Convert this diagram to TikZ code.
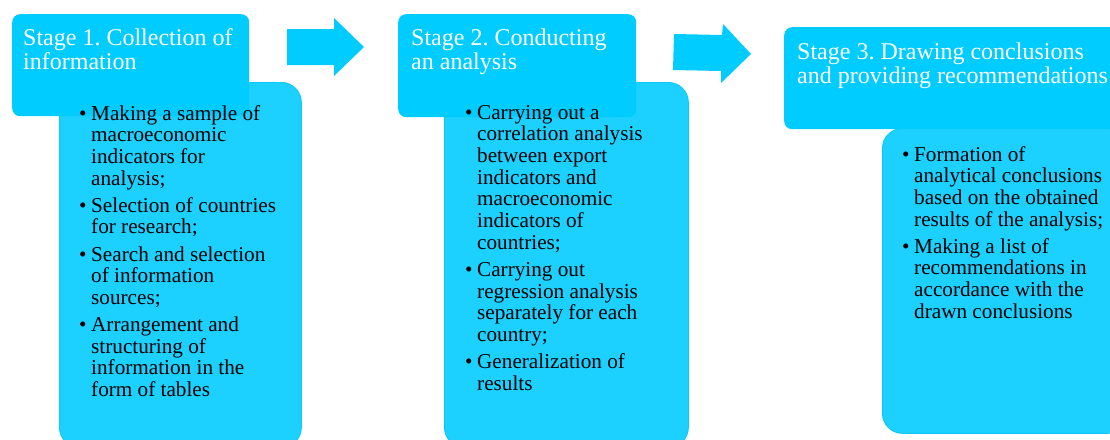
\documentclass[tikz,border=0pt]{standalone}
\usepackage{fontspec}
\setmainfont{Liberation Serif}
\usepackage{array}
\frenchspacing
\definecolor{headcol}{RGB}{0,204,255}
\definecolor{bodycol}{RGB}{28,209,255}
\definecolor{bodyline}{RGB}{10,200,250}
\definecolor{arrcol}{RGB}{0,204,255}
\newcommand{\bodyfont}{\fontsize{21.2}{21.7}\selectfont}
\newcommand{\titlefont}{\fontsize{24}{24.5}\selectfont}
\begin{document}
\begin{tikzpicture}[x=1pt,y=-1pt,
  bodybox/.style={fill=bodycol,draw=bodyline,line width=0.8pt,rounded corners=20pt,anchor=north west,inner sep=0pt},
  headbox/.style={fill=headcol,rounded corners=8pt,anchor=north west,inner sep=0pt},
  titletext/.style={anchor=base west,text=white,inner sep=0pt,font=\titlefont},
  bullettext/.style={anchor=base west,text=black,inner sep=0pt,font=\bodyfont}]
\useasboundingbox (0,0) rectangle (1110,439);
% bodies
\node[bodybox,minimum width=242pt,minimum height=365pt] (b1) at (59,82) {};
\node[bodybox,minimum width=244pt,minimum height=365pt] (b2) at (444,82) {};
\node[bodybox,minimum width=245pt,minimum height=305pt] (b3) at (882,128) {};
% headers
\node[headbox,minimum width=237pt,minimum height=102pt] (h1) at (12,14) {};
\node[headbox,minimum width=238pt,minimum height=103pt] (h2) at (398,14) {};
\node[headbox,minimum width=341pt,minimum height=102pt] (h3) at (784,27) {};
% titles
\node[titletext] (t1) at (23,45) {\begin{tabular}[t]{@{}l@{}}Stage 1. Collection of\\information\end{tabular}};
\node[titletext] (t2) at (411,45) {\begin{tabular}[t]{@{}l@{}}Stage 2. Conducting\\an analysis\end{tabular}};
\node[titletext] (t3) at (797,59) {\begin{tabular}[t]{@{}l@{}}Stage 3. Drawing conclusions\\and providing recommendations\end{tabular}};
% arrows
\fill[arrcol] (287,29) -- (334,29) -- (334,18) -- (364,47) -- (334,76) -- (334,65) -- (287,65) -- cycle;
\fill[arrcol] (674,34) -- (722,35) -- (723,24) -- (751,54) -- (721,83) -- (721,71) -- (673,70) -- cycle;
% bullet texts
\node[bullettext] (l1) at (79,120) {\begin{tabular}[t]{@{}p{12pt}@{}l@{}}
\textbullet & Making a sample of\\
 & macroeconomic\\
 & indicators for\\
 & analysis;\\[5.4pt]
\textbullet & Selection of countries\\
 & for research;\\[5.4pt]
\textbullet & Search and selection\\
 & of information\\
 & sources;\\[5.4pt]
\textbullet & Arrangement and\\
 & structuring of\\
 & information in the\\
 & form of tables
\end{tabular}};
\node[bullettext] (l2) at (465,119) {\begin{tabular}[t]{@{}p{12pt}@{}l@{}}
\textbullet & Carrying out a\\
 & correlation analysis\\
 & between export\\
 & indicators and\\
 & macroeconomic\\
 & indicators of\\
 & countries;\\[5.4pt]
\textbullet & Carrying out\\
 & regression analysis\\
 & separately for each\\
 & country;\\[5.4pt]
\textbullet & Generalization of\\
 & results
\end{tabular}};
\node[bullettext] (l3) at (902,161) {\begin{tabular}[t]{@{}p{12pt}@{}l@{}}
\textbullet & Formation of\\
 & analytical conclusions\\
 & based on the obtained\\
 & results of the analysis;\\[5.4pt]
\textbullet & Making a list of\\
 & recommendations in\\
 & accordance with the\\
 & drawn conclusions
\end{tabular}};
\end{tikzpicture}
\end{document}
